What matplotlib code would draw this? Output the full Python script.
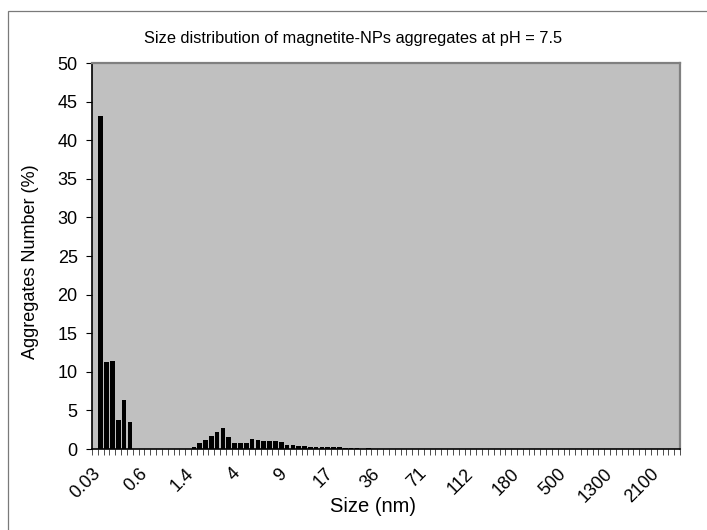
import matplotlib
matplotlib.use("Agg")
import matplotlib.pyplot as plt
import matplotlib.transforms as mtransforms
from matplotlib.patches import Rectangle
from matplotlib.ticker import FixedLocator

plt.rcParams["font.family"] = ["Liberation Sans", "DejaVu Sans"]

# labelled size classes (every 8th class of the instrument's 101 bins)
size_labels = ["0.03", "0.6", "1.4", "4", "9", "17", "36", "71",
               "112", "180", "500", "1300", "2100"]
label_step = 8
n_classes = 101

# aggregates number (%) per class
first_peak = [0.0, 43.1, 11.3, 11.4, 3.8, 6.3, 3.5]
second_peak = [0.3, 0.8, 1.2, 1.7, 2.15, 2.7, 1.5, 0.75, 0.75, 0.75,
               1.25, 1.2, 1.1, 1.05, 1.0, 0.95, 0.47, 0.47, 0.4, 0.4,
               0.3, 0.3, 0.22, 0.22, 0.22, 0.22, 0.17, 0.13, 0.13, 0.0, 0.13]
second_start = 17

values = [0.0] * n_classes
values[:len(first_peak)] = first_peak
values[second_start:second_start + len(second_peak)] = second_peak

W, H = 707, 530
fig = plt.figure(figsize=(W / 100, H / 100), dpi=100)
ax = fig.add_axes([92 / W, 1 - 449 / H, (680 - 92) / W, (449 - 63) / H])

ax.set_facecolor("#C0C0C0")
ax.bar(range(n_classes), values, width=0.8, color="black", zorder=3)

ax.set_xlim(-0.5, n_classes - 0.5)
ax.set_ylim(0, 50)
ax.set_yticks(range(0, 51, 5))
ax.tick_params(axis="y", direction="out", length=4.3, width=0.8,
               labelsize=13, pad=6)

ax.xaxis.set_major_locator(FixedLocator(
    [i * label_step for i in range(len(size_labels))]))
ax.set_xticklabels(size_labels, rotation=45, ha="right", va="center",
                   rotation_mode="anchor", fontsize=13)
ax.xaxis.set_minor_locator(FixedLocator(
    [i - 0.5 for i in range(n_classes + 1)]))
ax.tick_params(axis="x", which="major", length=0, pad=16)
ax.tick_params(axis="x", which="minor", direction="out", length=4,
               width=0.6, color="#303030")
# nudge the rotated labels a little to the right, as in the original
shift = mtransforms.ScaledTranslation(3 / 100, 0, fig.dpi_scale_trans)
for lbl in ax.get_xticklabels():
    lbl.set_transform(lbl.get_transform() + shift)

for side in ("left", "bottom"):
    ax.spines[side].set_color("black")
    ax.spines[side].set_linewidth(1.2)
for side in ("top", "right"):
    ax.spines[side].set_color("#808080")
    ax.spines[side].set_linewidth(1.6)

fig.text(353 / W, 1 - 38 / H, "Size distribution of magnetite-NPs aggregates at pH = 7.5",
         ha="center", va="center", fontsize=11.8)
fig.text(373 / W, 1 - 507 / H, "Size (nm)", ha="center", va="center", fontsize=14.5)
fig.text(31 / W, 1 - 262 / H, "Aggregates Number (%)", ha="center", va="center",
         rotation=90, fontsize=13)

# outer chart frame (only top and left edges visible)
fig.patches.append(Rectangle((8 / W, -0.1), 1.2, 1 - 11 / H + 0.1,
                             transform=fig.transFigure, fill=False,
                             edgecolor="#7a7a7a", linewidth=0.9))

fig.savefig("out.png", dpi=100)
